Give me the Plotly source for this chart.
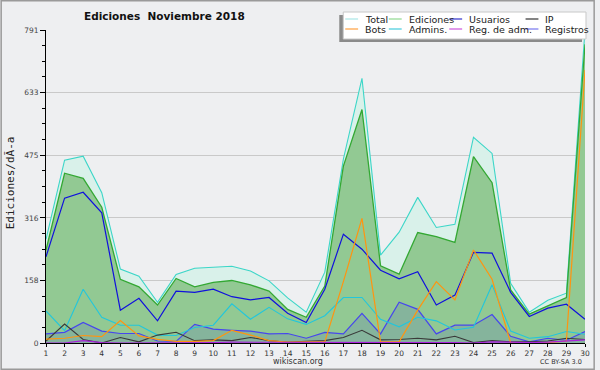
import plotly.graph_objects as go

# ---- data ----
days = list(range(1, 31))
total = [262, 462, 472, 380, 187, 169, 103, 173, 189, 191, 194, 182, 157, 114, 78,
         179, 465, 669, 222, 280, 368, 292, 300, 520, 479, 151, 78, 108, 126, 791]
ediciones = [235, 429, 416, 343, 161, 142, 96, 163, 142, 153, 158, 147, 131, 85, 65,
             144, 447, 590, 195, 174, 279, 269, 254, 471, 405, 134, 73, 94, 115, 755]
usuarios = [218, 366, 381, 329, 83, 113, 56, 131, 128, 136, 117, 109, 115, 75, 52,
            136, 275, 237, 184, 162, 180, 96, 121, 229, 227, 128, 67, 88, 98, 60]
ip = [5, 48, 9, 0, 14, 3, 20, 27, 6, 8, 6, 14, 6, 2, 4,
      6, 14, 32, 8, 9, 12, 8, 17, 1, 6, 3, 3, 5, 12, 9]
bots = [10, 12, 19, 16, 57, 18, 9, 4, 4, 6, 32, 20, 6, 2, 3,
        3, 155, 315, 3, 3, 83, 155, 109, 235, 161, 0, 0, 1, 5, 690]
admins = [81, 31, 136, 65, 45, 45, 20, 19, 39, 45, 99, 60, 90, 61, 47,
          69, 115, 115, 60, 41, 65, 56, 33, 40, 147, 30, 12, 16, 29, 22]
reg_adm = [0, 0, 6, 1, 0, 0, 0, 0, 0, 1, 2, 2, 1, 1, 1,
           1, 1, 1, 1, 1, 2, 2, 1, 0, 3, 2, 1, 2, 5, 8]
registros = [23, 27, 52, 30, 24, 24, 5, 4, 47, 35, 32, 30, 23, 24, 12,
             27, 23, 75, 23, 103, 85, 23, 45, 45, 72, 17, 3, 12, 7, 29]

y_tick_vals = [0, 158, 316, 475, 633, 791]
y_tick_text = ["0", "158", "316", "475", "633", "791"]

title_text = "Ediciones  Noviembre 2018"
y_title = "Ediciones/dÃ-a"

legend_cols = [["Total", "Bots"], ["Ediciones", "Admins."],
               ["Usuarios", "Reg. de adm."], ["IP", "Registros"]]
legend_colors = {"Total": "#a8e6e6", "Ediciones": "#8fd98f", "Usuarios": "#3333cc",
                 "IP": "#333333", "Bots": "#ffa040", "Admins.": "#44ccdd",
                 "Reg. de adm.": "#cc55dd", "Registros": "#7777ee"}

# ---- figure ----
W, H = 600, 370
ML, MR, MT, MB = 46, 10, 30, 27
PW, PH = W - ML - MR, H - MT - MB


def px(x):
    return (x - ML) / PW


def py(y):
    return (H - MB - y) / PH


fig = go.Figure()
fig.add_trace(go.Scatter(x=days, y=total, name="Total", mode="lines",
                         line=dict(color="#3cd6c8", width=1.1),
                         fill="tozeroy", fillcolor="#d9f1ea"))
fig.add_trace(go.Scatter(x=days, y=ediciones, name="Ediciones", mode="lines",
                         line=dict(color="#33a833", width=1.3),
                         fill="tozeroy", fillcolor="#92c993"))
fig.add_trace(go.Scatter(x=days, y=registros, name="Registros", mode="lines",
                         line=dict(color="#4646ee", width=1.2),
                         fill="tozeroy", fillcolor="rgba(70,80,200,0.17)"))
fig.add_trace(go.Scatter(x=days, y=admins, name="Admins.", mode="lines",
                         line=dict(color="#22c6dc", width=1.1)))
fig.add_trace(go.Scatter(x=days, y=ip, name="IP", mode="lines",
                         line=dict(color="#3a3a3a", width=1.1)))
fig.add_trace(go.Scatter(x=days, y=usuarios, name="Usuarios", mode="lines",
                         line=dict(color="#1010dd", width=1.2)))
fig.add_trace(go.Scatter(x=days, y=bots, name="Bots", mode="lines",
                         line=dict(color="#ff9410", width=1.2)))
fig.add_trace(go.Scatter(x=days, y=reg_adm, name="Reg. de adm.", mode="lines",
                         line=dict(color="#aa22dd", width=1.2)))

minor_vals = [791 * i / 20 for i in range(21)]

fig.update_layout(
    width=W, height=H,
    margin=dict(l=ML, r=MR, t=MT, b=MB, pad=0),
    paper_bgcolor="#eeeff1", plot_bgcolor="#eeeff1",
    showlegend=False,
    font=dict(family="DejaVu Sans", color="#333333"),
    xaxis=dict(range=[1, 30], tickmode="array", tickvals=days,
               ticktext=[str(d) for d in days],
               ticks="outside", ticklen=3, tickcolor="#000", tickwidth=1,
               showline=True, linecolor="#000", linewidth=1,
               showgrid=False, zeroline=False,
               tickfont=dict(size=7.5, color="#333")),
    yaxis=dict(range=[0, 791], tickmode="array", tickvals=y_tick_vals,
               ticktext=y_tick_text,
               ticks="outside", ticklen=5, tickcolor="#000", tickwidth=1,
               minor=dict(tickmode="array", tickvals=minor_vals, ticks="outside",
                          ticklen=3, tickcolor="#000", showgrid=False),
               showline=True, linecolor="#000", linewidth=1,
               showgrid=True, gridcolor="#c9c9c9", gridwidth=1, zeroline=False,
               tickfont=dict(size=7.5, color="#444")),
)

shapes = []
annotations = []

# outer frame
shapes.append(dict(type="rect", xref="paper", yref="paper",
                   x0=px(0.75), x1=px(W - 0.75), y0=py(H - 0.75), y1=py(0.75),
                   line=dict(color="#9a9a9a", width=1.5), fillcolor="rgba(0,0,0,0)",
                   layer="above"))

# legend box with shadow
LX0, LX1, LY0, LY1 = 346, 591, 12, 39
shapes.append(dict(type="rect", xref="paper", yref="paper",
                   x0=px(LX0 - 4), x1=px(LX1 - 4), y0=py(LY1 + 3), y1=py(LY0 + 3),
                   line=dict(width=0), fillcolor="#8a8a8a", layer="above"))
shapes.append(dict(type="rect", xref="paper", yref="paper",
                   x0=px(LX0), x1=px(LX1), y0=py(LY1), y1=py(LY0),
                   line=dict(color="#c8c8c8", width=1), fillcolor="#ffffff",
                   layer="above"))
col_x = [348, 392, 453, 530]
row_y = [19, 29]
for ci, col in enumerate(legend_cols):
    for ri, name in enumerate(col):
        x0 = col_x[ci]
        y = row_y[ri]
        shapes.append(dict(type="line", xref="paper", yref="paper",
                           x0=px(x0), x1=px(x0 + 13), y0=py(y), y1=py(y),
                           line=dict(color=legend_colors[name], width=1.2),
                           layer="above"))
        annotations.append(dict(xref="paper", yref="paper", x=px(x0 + 18), y=py(y),
                                text=name, showarrow=False, xanchor="left",
                                yanchor="middle",
                                font=dict(size=9.5, color="#222", family="DejaVu Sans")))

# title
annotations.append(dict(xref="paper", yref="paper", x=px(166), y=py(16),
                        text="<b>" + title_text + "</b>", showarrow=False,
                        xanchor="center", yanchor="middle",
                        font=dict(size=10.5, color="#111", family="DejaVu Sans")))
# y axis title
annotations.append(dict(xref="paper", yref="paper", x=px(10), y=py(183),
                        text=y_title, showarrow=False, textangle=-90,
                        xanchor="center", yanchor="middle",
                        font=dict(size=11, color="#222", family="DejaVu Sans Mono")))
# footer texts
annotations.append(dict(xref="paper", yref="paper", x=px(300), y=py(361),
                        text="wikiscan.org", showarrow=False, xanchor="center",
                        yanchor="middle",
                        font=dict(size=8, color="#333", family="DejaVu Sans")))
annotations.append(dict(xref="paper", yref="paper", x=px(589), y=py(362),
                        text="CC BY-SA 3.0", showarrow=False, xanchor="right",
                        yanchor="middle",
                        font=dict(size=6.5, color="#333", family="DejaVu Sans")))

fig.update_layout(shapes=shapes, annotations=annotations)
fig.write_html("out.html",
               config={"displayModeBar": False},
               post_script="document.body.style.margin='0px';document.body.style.padding='0px';")
